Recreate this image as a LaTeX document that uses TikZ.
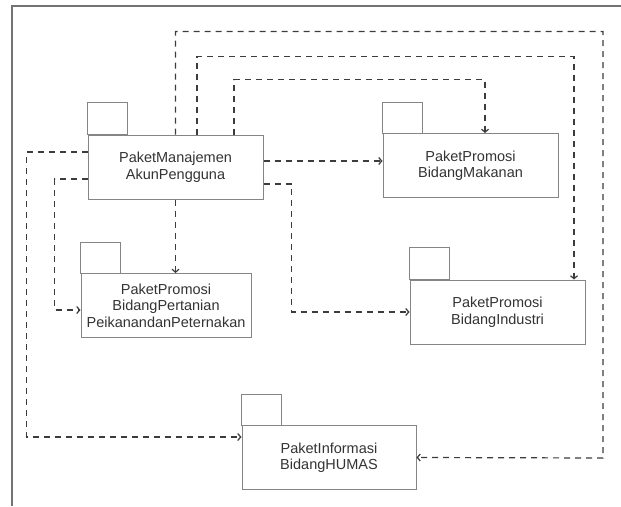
\documentclass[tikz,border=0pt]{standalone}
\usepackage{fontspec}
\setmainfont{Liberation Sans}
\usepackage{tikz}
\usetikzlibrary{arrows.meta}
\definecolor{boxgray}{HTML}{858585}
\definecolor{linegray}{HTML}{3C3C3C}
\definecolor{txtgray}{HTML}{333333}

\begin{document}
\begin{tikzpicture}[x=1pt,y=1pt]

			\tikzstyle{paket} = [draw=boxgray,line width=1pt,fill=white,minimum width=175pt,minimum height=64pt,align=center,text=txtgray,font=\fontsize{14.5}{16.5}\selectfont]
			\tikzstyle{tab} = [draw=boxgray,line width=1pt]
			\tikzstyle{depline} = [draw=linegray,line width=1.2pt,dash pattern=on 6pt off 5pt,-{Straight Barb[length=3pt,width=7pt]}]

			\useasboundingbox (0,0) rectangle (621,-506);
			% frame
			\draw[draw=gray!90!black,line width=1.2pt] (12,-506) -- (12,-6) -- (621,-6);

			% packages
			\node[paket] (mj) at (175.5,-167) {PaketManajemen\\AkunPengguna};
			\draw[tab] (mj.north west) rectangle ++(40,32);

			\node[paket] (mk) at (470.5,-165.5) {PaketPromosi\\BidangMakanan};
			\draw[tab] (mk.north west) rectangle ++(40,31);

			\node[paket,minimum width=170pt] (pt) at (166,-305.5) {PaketPromosi\\BidangPertanian\\PeikanandanPeternakan};
			\draw[tab] (pt.north west) rectangle ++(40,31);

			\node[paket] (in) at (497.5,-312) {PaketPromosi\\BidangIndustri};
			\draw[tab] (in.north west) rectangle ++(40,32);

			\node[paket,minimum width=174pt] (hu) at (329,-457.5) {PaketInformasi\\BidangHUMAS};
			\draw[tab] (hu.north west) rectangle ++(40,31);

			% dependencies
			\draw[depline] (mj.north) -- ++(0,103) -| (603,-458) -- (hu.east);
			\draw[depline] ([xshift=21.5]mj.north) -- ++(0,78) -| ([xshift=76.5]in.north);
			\draw[depline] ([xshift=58.5]mj.north) -- ++(0,55) -| ([xshift=14.5]mk.north);
			\draw[depline] ([yshift=6]mj.east) -- ([yshift=6]mj.east -| mk.west);
			\draw[depline] ([yshift=-17]mj.east) -- ++(28,0) |- (in.west);
			\draw[depline] (mj.south) -- (mj.south |- pt.north);
			\draw[depline] ([yshift=15]mj.west) -- ++(-61,0) |- ([yshift=20.5]hu.west);
			\draw[depline] ([yshift=-12]mj.west) -- ++(-33,0) |- ([yshift=-4.5]pt.west);
		\end{tikzpicture}
\end{document}
